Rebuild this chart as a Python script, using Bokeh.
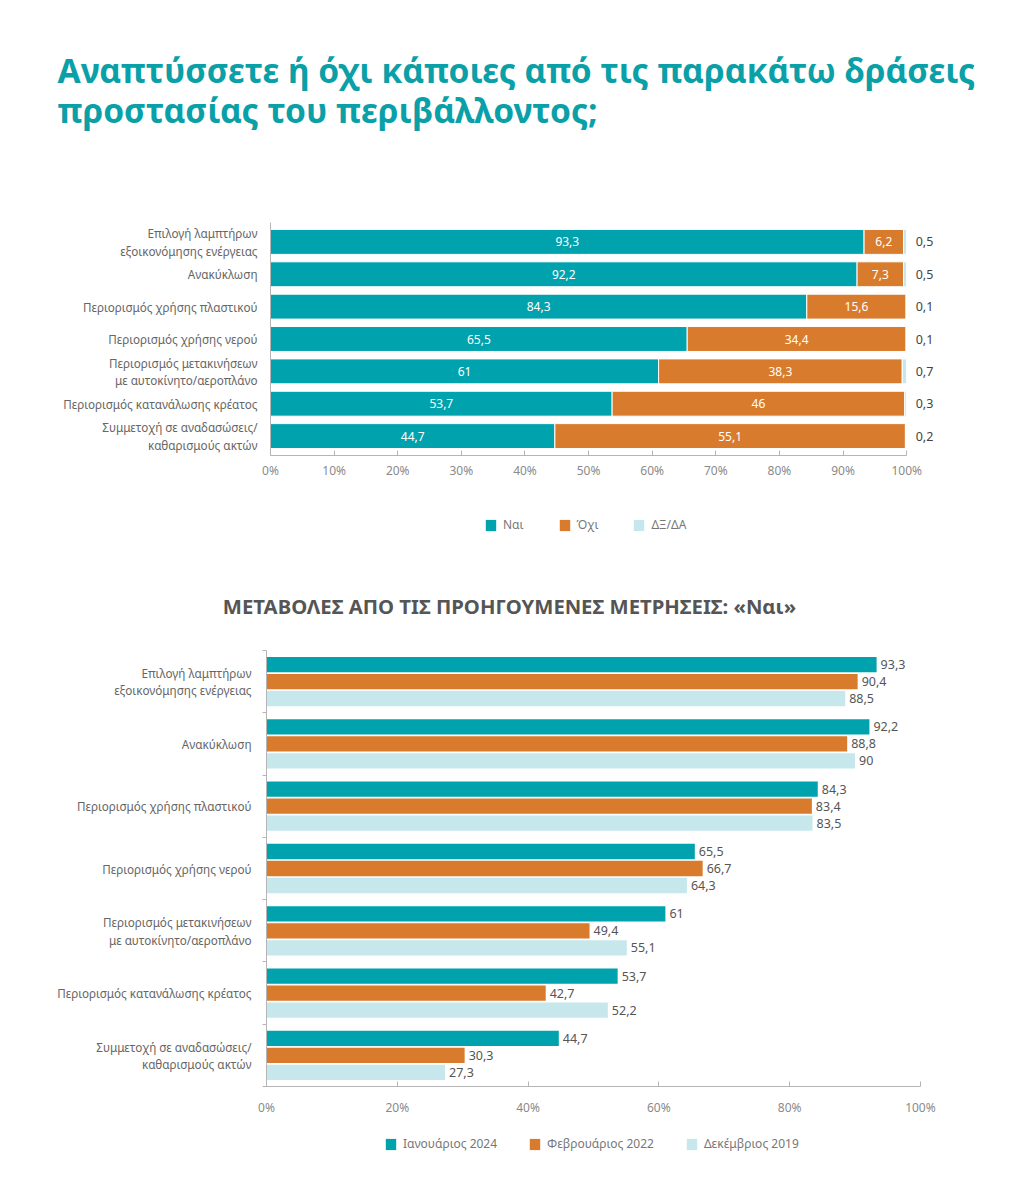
from bokeh.plotting import figure
from bokeh.models import Range1d, FixedTicker, Legend, LegendItem, ColumnDataSource
from bokeh.core.properties import value
from bokeh.embed import file_html
from bokeh.resources import INLINE

# ---------------- data ----------------
title_lines = ["Αναπτύσσετε ή όχι κάποιες από τις παρακάτω δράσεις",
               "προστασίας του περιβάλλοντος;"]
subtitle = "ΜΕΤΑΒΟΛΕΣ ΑΠΟ ΤΙΣ ΠΡΟΗΓΟΥΜΕΝΕΣ ΜΕΤΡΗΣΕΙΣ: «Ναι»"

categories = ["Επιλογή λαμπτήρων\nεξοικονόμησης ενέργειας",
              "Ανακύκλωση",
              "Περιορισμός χρήσης πλαστικού",
              "Περιορισμός χρήσης νερού",
              "Περιορισμός μετακινήσεων\nμε αυτοκίνητο/αεροπλάνο",
              "Περιορισμός κατανάλωσης κρέατος",
              "Συμμετοχή σε αναδασώσεις/\nκαθαρισμούς ακτών"]

yes_vals = [93.3, 92.2, 84.3, 65.5, 61, 53.7, 44.7]
no_vals = [6.2, 7.3, 15.6, 34.4, 38.3, 46, 55.1]
dk_vals = [0.5, 0.5, 0.1, 0.1, 0.7, 0.3, 0.2]
stack_names = ["Ναι", "Όχι", "ΔΞ/ΔΑ"]

jan2024 = [93.3, 92.2, 84.3, 65.5, 61, 53.7, 44.7]
feb2022 = [90.4, 88.8, 83.4, 66.7, 49.4, 42.7, 30.3]
dec2019 = [88.5, 90, 83.5, 64.3, 55.1, 52.2, 27.3]
wave_names = ["Ιανουάριος 2024", "Φεβρουάριος 2022", "Δεκέμβριος 2019"]

top_ticks = [0, 10, 20, 30, 40, 50, 60, 70, 80, 90, 100]
bottom_ticks = [0, 20, 40, 60, 80, 100]

# ---------------- style ----------------
TEAL = "#00a3ad"
ORANGE = "#d97b2c"
LIGHT = "#c6e8ec"
TITLE_C = "#0aa0a8"
FONT = "Noto Sans"
AXIS_C = "#b5b5b5"
W = 1000


def fmt(v):
    s = ("%g" % v)
    return s.replace(".", ",")


def text_fig(h):
    f = figure(width=W, height=h, x_range=Range1d(0, W), y_range=Range1d(h, 0),
               min_border=0, toolbar_location=None, output_backend="svg",
               x_axis_location=None, y_axis_location=None)
    f.grid.visible = False
    f.outline_line_color = None
    return f


def style_x(ax, ticks, standoff):
    ax.ticker = FixedTicker(ticks=ticks)
    ax.major_label_overrides = {t: "%d%%" % t for t in ticks}
    ax.bounds = (0, 100)
    ax.axis_line_color = AXIS_C
    ax.major_tick_line_color = AXIS_C
    ax.major_tick_in = 5
    ax.major_tick_out = 0
    ax.minor_tick_line_color = None
    ax.major_label_text_color = "#8a8a8a"
    ax.major_label_text_font = FONT
    ax.major_label_text_font_size = "12px"
    ax.major_label_standoff = standoff


def style_y(ax, ticks, labels, standoff):
    ax.major_label_overrides = {y: c for y, c in zip(ticks, labels)}
    ax.axis_line_color = AXIS_C
    ax.major_tick_line_color = None
    ax.major_label_text_color = "#666666"
    ax.major_label_text_font = FONT
    ax.major_label_text_font_size = "11.7px"
    ax.major_label_text_line_height = 1.1
    ax.major_label_standoff = standoff


def legend_fig(names, colors, loc, spacing):
    f = text_fig(45)
    f.y_range = Range1d(0, 45)
    items = []
    for nm, c in zip(names, colors):
        r = f.hbar(y=[0], left=[0], right=[1], height=1, color=c, line_color=None)
        r.visible = False
        items.append(LegendItem(label=nm, renderers=[r]))
    leg = Legend(items=items, orientation="horizontal", location=loc, glyph_width=13,
                 glyph_height=14, label_text_font=FONT, label_text_font_size="12px",
                 label_text_color="#777777", spacing=spacing, label_standoff=6,
                 border_line_color=None, background_fill_alpha=0, padding=5, margin=0,
                 inactive_fill_alpha=0)
    f.add_layout(leg)
    return f


# ---------------- title figure ----------------
ft = text_fig(170)
ft.text(x=[57, 57], y=[69, 109], text=title_lines, text_font=value(FONT),
        text_font_style="bold", text_font_size="33.5px", text_color=TITLE_C,
        text_baseline="middle", text_align="left")

# ---------------- top chart ----------------
n = len(categories)
ypos = [n - 1 - i for i in range(n)]

p1 = figure(width=W, height=330, x_range=Range1d(0, 105), y_range=Range1d(-0.6, 6.6),
            toolbar_location=None, output_backend="svg",
            min_border_left=270, min_border_top=52, min_border_bottom=45, min_border_right=62)
p1.grid.visible = False
p1.outline_line_color = None

src1 = ColumnDataSource(dict(y=ypos, yes=yes_vals, no=no_vals, dk=dk_vals))
rs = p1.hbar_stack(["yes", "no", "dk"], y="y", height=0.77, color=[TEAL, ORANGE, LIGHT],
                   line_color="white", line_width=1, source=src1)

yes_lab = ColumnDataSource(dict(x=[v / 2 for v in yes_vals], y=ypos, t=[fmt(v) for v in yes_vals]))
no_lab = ColumnDataSource(dict(x=[a + b / 2 for a, b in zip(yes_vals, no_vals)], y=ypos,
                               t=[fmt(v) for v in no_vals]))
dk_lab = ColumnDataSource(dict(x=[100] * n, y=ypos, t=[fmt(v) for v in dk_vals]))
for s in (yes_lab, no_lab):
    p1.text(x="x", y="y", text="t", source=s, text_color="white", text_font=value(FONT),
            text_font_size="12px", text_align="center", text_baseline="middle")
p1.text(x="x", y="y", text="t", source=dk_lab, text_color="#444444", text_font=value(FONT),
        text_font_size="12.5px", text_align="left", text_baseline="middle", x_offset=9)

style_x(p1.xaxis[0], top_ticks, 6)
p1.yaxis[0].ticker = FixedTicker(ticks=ypos)
style_y(p1.yaxis[0], ypos, categories, 7)
p1.yaxis[0].minor_tick_line_color = None

lg1 = legend_fig(stack_names, [TEAL, ORANGE, LIGHT], (484, 12), 34)

# ---------------- subtitle figure ----------------
fs = text_fig(85)
fs.text(x=[509], y=[60], text=[subtitle], text_font=value(FONT), text_font_style="bold",
        text_font_size="20.3px", text_color="#555555", text_align="center", text_baseline="middle")

# ---------------- bottom chart ----------------
p2 = figure(width=W, height=490, x_range=Range1d(0, 102), y_range=Range1d(-0.5, 6.5),
            toolbar_location=None, output_backend="svg",
            min_border_left=266, min_border_top=20, min_border_bottom=34, min_border_right=67)
p2.grid.visible = False
p2.outline_line_color = None

off = 0.273
bh = 0.245
for vals, col, dy in zip([jan2024, feb2022, dec2019], [TEAL, ORANGE, LIGHT], [off, 0, -off]):
    s = ColumnDataSource(dict(y=[y + dy for y in ypos], v=vals, t=[fmt(v) for v in vals]))
    p2.hbar(y="y", left=0, right="v", height=bh, color=col, line_color=None, source=s)
    p2.text(x="v", y="y", text="t", source=s, text_color="#555555", text_font=value(FONT),
            text_font_size="12.5px", text_align="left", text_baseline="middle", x_offset=4)

style_x(p2.xaxis[0], bottom_ticks, 12)
p2.yaxis[0].ticker = FixedTicker(ticks=ypos, minor_ticks=[y - 0.5 for y in ypos] + [6.5])
style_y(p2.yaxis[0], ypos, categories, 9)
p2.yaxis[0].minor_tick_line_color = AXIS_C
p2.yaxis[0].minor_tick_out = 4
p2.yaxis[0].minor_tick_in = 0

lg2 = legend_fig(wave_names, [TEAL, ORANGE, LIGHT], (384, 13), 31)

open("out.html", "w").write(file_html([ft, p1, lg1, fs, p2, lg2], INLINE))
